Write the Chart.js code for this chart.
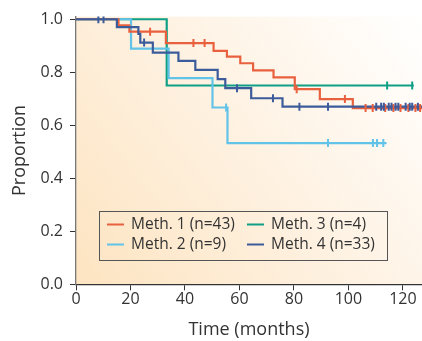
<!DOCTYPE html>
<html>
<head>
  <title>Proportion over time</title>
  <script src="https://cdn.jsdelivr.net/npm/chart.js"></script>
  <style>
    body { margin: 0; background: #fff; }
  </style>
</head>
<body>
  <canvas id="kmChart" width="422" height="341"></canvas>
  <script>
    // Kaplan-Meier steps: time of each drop and the level after it
    const m1Time = [0, 15.6, 19.6, 33, 50.5, 55.4, 60.3, 65, 72.5, 80.3, 89.5, 101.6, 127];
    const m1Surv = [1, 0.977, 0.953, 0.91, 0.881, 0.859, 0.834, 0.807, 0.781, 0.736, 0.699, 0.665, 0.665];
    const m1Cens = [27.2, 43.1, 47.2, 81, 98.7, 106.3, 108.9, 113.5, 116.5, 119.1, 122, 124.6, 126.3];

    const m2Time = [0, 20.2, 34, 50.1, 55.6, 114];
    const m2Surv = [1, 0.889, 0.778, 0.667, 0.533, 0.533];
    const m2Cens = [55.1, 92.5, 109, 110.5, 112.8];

    const m3Time = [0, 33.3, 124];
    const m3Surv = [1, 0.75, 0.75];
    const m3Cens = [114.2, 123.4];

    const m4Time = [0, 15, 22.9, 23.6, 28.2, 37.6, 43.8, 52, 54.8, 64.3, 75.8, 127];
    const m4Surv = [1, 0.97, 0.945, 0.912, 0.874, 0.843, 0.809, 0.774, 0.74, 0.702, 0.67, 0.67];
    const m4Cens = [8.2, 10.1, 25, 59.1, 72.3, 82, 92.5, 110.2, 112, 113, 114.8, 115.8, 117.3, 118.3, 121, 122.5, 123.4, 125.5];

    const seriesNames = ['Meth. 1 (n=43)', 'Meth. 2 (n=9)', 'Meth. 3 (n=4)', 'Meth. 4 (n=33)'];
    const seriesColors = ['#e9603f', '#62c3e8', '#0f9f86', '#3c5b9b'];
    const xTicks = [0, 20, 40, 60, 80, 100, 120];
    const yTicks = [0, 0.2, 0.4, 0.6, 0.8, 1.0];

    const FONT = "'Open Sans', sans-serif";

    function levelAt(times, surv, t) {
        let v = surv[0];
        for (let i = 0; i < times.length; i++) {
            if (times[i] <= t) v = surv[i];
        }
        return v;
    }

    function curve(times, surv, name, color, order) {
        return {
            label: name,
            data: times.map((t, i) => ({x: t, y: surv[i]})),
            stepped: 'before',
            borderColor: color,
            borderWidth: 2.2,
            pointRadius: 0,
            fill: false,
            order: order
        };
    }

    function censors(times, surv, cens, color, order) {
        return {
            label: '',
            data: cens.map(t => ({x: t, y: levelAt(times, surv, t)})),
            showLine: false,
            pointStyle: 'line',
            rotation: 90,
            pointRadius: 4,
            borderColor: color,
            borderWidth: 2,
            order: order
        };
    }

    const bgPlugin = {
        id: 'bg',
        beforeDraw(chart) {
            const a = chart.chartArea;
            const c = chart.ctx;
            const g = c.createLinearGradient(a.left, a.bottom, a.right, a.top);
            g.addColorStop(0, '#fde4c1');
            g.addColorStop(0.45, '#fef0de');
            g.addColorStop(1, '#ffffff');
            c.save();
            c.fillStyle = g;
            c.fillRect(a.left, a.top, a.right - a.left, a.bottom - a.top);
            c.restore();
        }
    };

    const legendPlugin = {
        id: 'boxLegend',
        afterDraw(chart) {
            const c = chart.ctx;
            c.save();
            c.strokeStyle = '#555';
            c.lineWidth = 1;
            c.strokeRect(99.5, 211.5, 288, 49);
            c.font = '15.5px ' + FONT;
            c.textBaseline = 'middle';
            c.fillStyle = '#333';
            const cols = [107, 247];
            const rows = [224.5, 244.5];
            for (let i = 0; i < seriesNames.length; i++) {
                const x = cols[Math.floor(i / 2)];
                const y = rows[i % 2];
                c.strokeStyle = seriesColors[i];
                c.lineWidth = 2;
                c.beginPath();
                c.moveTo(x, y);
                c.lineTo(x + 17, y);
                c.stroke();
                c.fillText(seriesNames[i], x + 24, y);
            }
            c.restore();
        }
    };

    const ctx = document.getElementById('kmChart').getContext('2d');
    const chart = new Chart(ctx, {
        type: 'line',
        data: {
            datasets: [
                curve(m3Time, m3Surv, seriesNames[2], seriesColors[2], 8),
                curve(m2Time, m2Surv, seriesNames[1], seriesColors[1], 7),
                curve(m1Time, m1Surv, seriesNames[0], seriesColors[0], 6),
                curve(m4Time, m4Surv, seriesNames[3], seriesColors[3], 5),
                censors(m3Time, m3Surv, m3Cens, seriesColors[2], 4),
                censors(m2Time, m2Surv, m2Cens, seriesColors[1], 3),
                censors(m1Time, m1Surv, m1Cens, seriesColors[0], 2),
                censors(m4Time, m4Surv, m4Cens, seriesColors[3], 1)
            ]
        },
        options: {
            responsive: false,
            animation: false,
            devicePixelRatio: 1,
            layout: { autoPadding: false, padding: { top: 16.6, right: 0, left: 0, bottom: 0 } },
            plugins: {
                legend: { display: false },
                tooltip: { enabled: false }
            },
            scales: {
                x: {
                    type: 'linear',
                    min: 0,
                    max: 127,
                    afterBuildTicks: s => { s.ticks = xTicks.map(v => ({value: v})); },
                    afterFit: s => { s.height = 56.7; },
                    grid: { drawOnChartArea: false, drawTicks: true, tickLength: 6, color: '#333' },
                    border: { display: true, color: '#333', width: 1.3 },
                    ticks: { padding: 0, color: '#333', font: { family: FONT, size: 16 } },
                    title: {
                        display: true,
                        text: 'Time (months)',
                        color: '#333',
                        padding: { top: 0, bottom: 0 },
                        font: { family: FONT, size: 18 }
                    }
                },
                y: {
                    min: 0,
                    max: 1.01,
                    afterBuildTicks: s => { s.ticks = yTicks.map(v => ({value: v})); },
                    afterFit: s => { s.width = 76; },
                    grid: { drawOnChartArea: false, drawTicks: true, tickLength: 6, color: '#333' },
                    border: { display: true, color: '#777', width: 1.3 },
                    ticks: {
                        padding: 7,
                        color: '#333',
                        font: { family: FONT, size: 16 },
                        callback: v => v.toFixed(1)
                    },
                    title: {
                        display: true,
                        text: 'Proportion',
                        color: '#333',
                        padding: { top: 9, bottom: 0 },
                        font: { family: FONT, size: 18 }
                    }
                }
            }
        },
        plugins: [bgPlugin, legendPlugin]
    });
  </script>
</body>
</html>
